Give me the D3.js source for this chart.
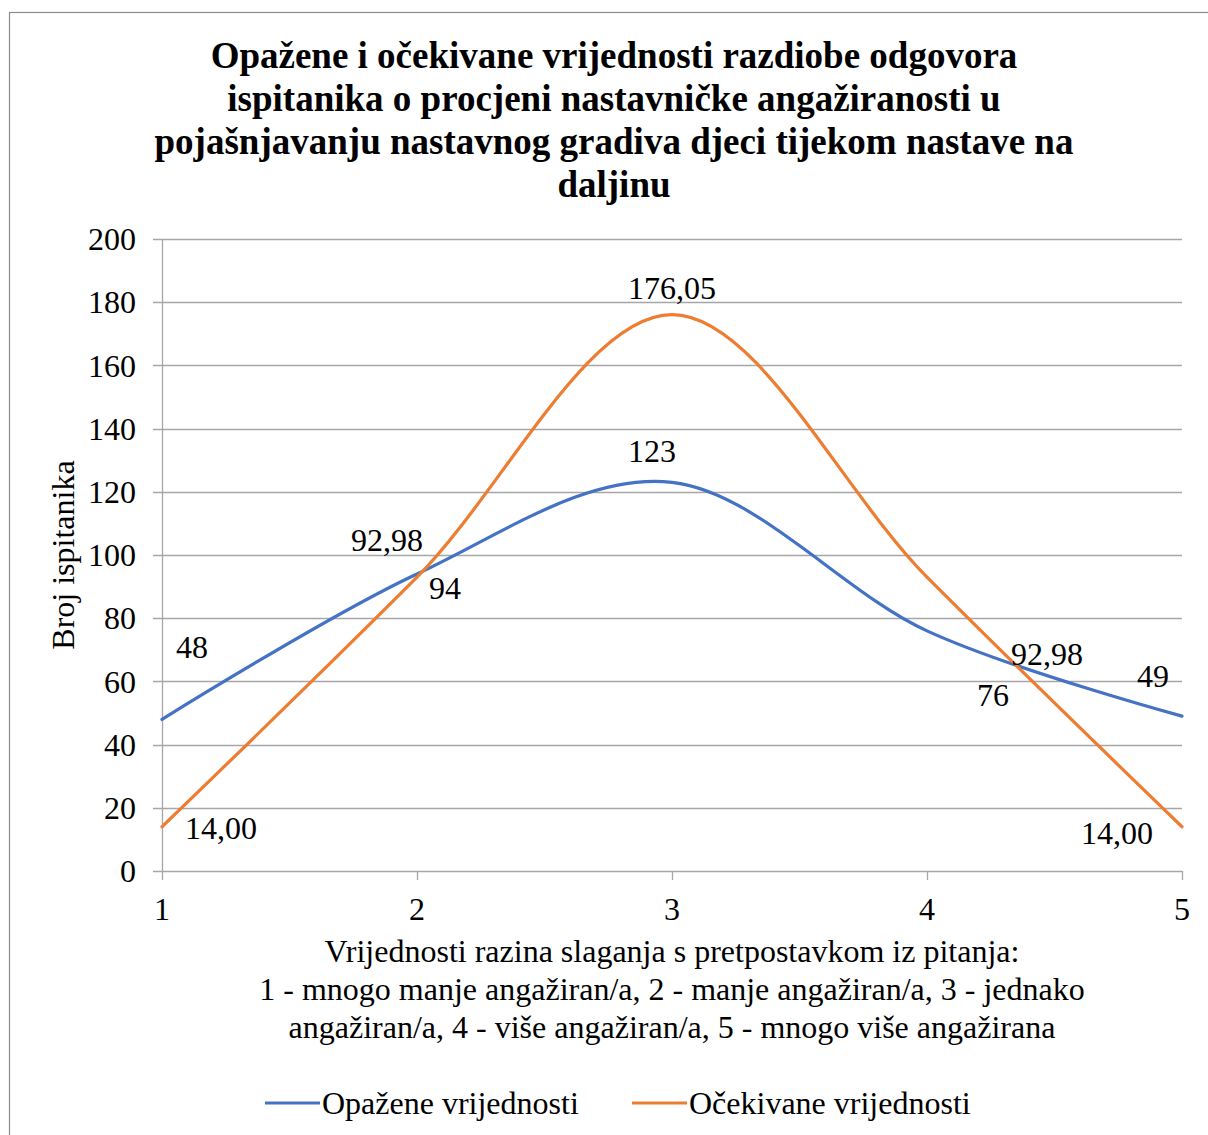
<!DOCTYPE html>
<html>
<head>
<meta charset="utf-8">
<script src="https://cdn.jsdelivr.net/npm/d3@7"></script>
<style>
html,body{margin:0;padding:0;background:#fff;}
svg{display:block;}
svg text{font-family:"Liberation Serif","Times New Roman",serif;}
</style>
</head>
<body>
<svg id="chart" width="1208" height="1135"></svg>
<script>
const categories = [1, 2, 3, 4, 5];
const observed = [48, 94, 123, 76, 49];
const expected = [14.00, 92.98, 176.05, 92.98, 14.00];
const observedLabels = ["48", "94", "123", "76", "49"];
const expectedLabels = ["14,00", "92,98", "176,05", "92,98", "14,00"];
const yTicks = [0, 20, 40, 60, 80, 100, 120, 140, 160, 180, 200];
const seriesNames = ["Opažene vrijednosti", "Očekivane vrijednosti"];
const titleLines = [
  "Opažene i očekivane vrijednosti razdiobe odgovora",
  "ispitanika o procjeni nastavničke angažiranosti u",
  "pojašnjavanju nastavnog gradiva djeci tijekom nastave na",
  "daljinu"
];
const xTitleLines = [
  "Vrijednosti razina slaganja s pretpostavkom iz pitanja:",
  "1 - mnogo manje angažiran/a, 2 - manje angažiran/a, 3 - jednako",
  "angažiran/a, 4 - više angažiran/a, 5 - mnogo više angažirana"
];
const yTitle = "Broj ispitanika";

// label offsets (pixels, relative to point) – styling only
const obsOffsets = [[30, -73], [28, 14], [-20, -32], [66, 64], [-29, -40]];
const expOffsets = [[59, 1], [-30, -37], [0, -27], [120, 77], [-65, 6]];

const colors = ["#4472C4", "#ED7D31"];
const svg = d3.select("#chart");
const W = 1208, H = 1135;
const fs = 32;

// outer border
svg.append("rect").attr("x", 9.5).attr("y", 12.5).attr("width", W + 20).attr("height", H + 20)
  .attr("fill", "#fff").attr("stroke", "#8c8c8c").attr("stroke-width", 1.2);

const m = {left: 162, right: 1182, top: 239, bottom: 871};
const x = d3.scaleLinear().domain([1, 5]).range([m.left, m.right]);
const y = d3.scaleLinear().domain([0, 200]).range([m.bottom, m.top]);

const gridColor = "#a6a6a6";

// gridlines
svg.append("g").selectAll("line").data(yTicks).join("line")
  .attr("x1", m.left - 9).attr("x2", m.right)
  .attr("y1", d => Math.round(y(d)) + 0.5).attr("y2", d => Math.round(y(d)) + 0.5)
  .attr("stroke", gridColor).attr("stroke-width", 1.3);

// y axis line
svg.append("line").attr("x1", m.left + 0.5).attr("x2", m.left + 0.5)
  .attr("y1", m.top).attr("y2", m.bottom + 9).attr("stroke", gridColor).attr("stroke-width", 1.3);

// x tick marks
svg.append("g").selectAll("line").data(categories.slice(1)).join("line")
  .attr("x1", d => Math.round(x(d)) + 0.5).attr("x2", d => Math.round(x(d)) + 0.5)
  .attr("y1", m.bottom).attr("y2", m.bottom + 9)
  .attr("stroke", gridColor).attr("stroke-width", 1.3);

// y tick labels
svg.append("g").selectAll("text").data(yTicks).join("text")
  .attr("x", 136).attr("y", d => y(d)).attr("dy", "0.35em")
  .attr("text-anchor", "end").attr("font-size", fs).attr("fill", "#000")
  .text(d => d);

// x tick labels
svg.append("g").selectAll("text").data(categories).join("text")
  .attr("x", d => x(d)).attr("y", 909).attr("dy", "0.35em")
  .attr("text-anchor", "middle").attr("font-size", fs).attr("fill", "#000")
  .text(d => d);

// lines
const line = d3.line().x((d, i) => x(categories[i])).y(d => y(d)).curve(d3.curveCardinal.tension(0));
[observed, expected].forEach((s, k) => {
  svg.append("path").datum(s).attr("d", line)
    .attr("fill", "none").attr("stroke", colors[k]).attr("stroke-width", 3.2)
    .attr("stroke-linecap", "round");
});

// data labels
function addLabels(vals, labels, offs) {
  svg.append("g").selectAll("text").data(vals).join("text")
    .attr("x", (d, i) => x(categories[i]) + offs[i][0])
    .attr("y", (d, i) => y(d) + offs[i][1]).attr("dy", "0.35em")
    .attr("text-anchor", "middle").attr("font-size", fs).attr("fill", "#000")
    .text((d, i) => labels[i]);
}
addLabels(observed, observedLabels, obsOffsets);
addLabels(expected, expectedLabels, expOffsets);

// title
svg.append("g").selectAll("text").data(titleLines).join("text")
  .attr("x", 614).attr("y", (d, i) => 55 + i * 43).attr("dy", "0.35em")
  .attr("text-anchor", "middle").attr("font-size", 37).attr("font-weight", "bold").attr("fill", "#000")
  .text(d => d);

// x title
svg.append("g").selectAll("text").data(xTitleLines).join("text")
  .attr("x", 672).attr("y", (d, i) => 951 + i * 38).attr("dy", "0.35em")
  .attr("text-anchor", "middle").attr("font-size", fs).attr("fill", "#000")
  .text(d => d);

// y title
svg.append("text").attr("transform", "translate(63,555) rotate(-90)")
  .attr("dy", "0.35em").attr("text-anchor", "middle").attr("font-size", fs).attr("fill", "#000")
  .text(yTitle);

// legend
const legendX = [265, 632];
seriesNames.forEach((n, k) => {
  svg.append("line").attr("x1", legendX[k]).attr("x2", legendX[k] + 55)
    .attr("y1", 1103).attr("y2", 1103).attr("stroke", colors[k]).attr("stroke-width", 3.2);
  svg.append("text").attr("x", legendX[k] + 57).attr("y", 1103).attr("dy", "0.35em")
    .attr("font-size", fs).attr("fill", "#000").text(n);
});
</script>
</body>
</html>
